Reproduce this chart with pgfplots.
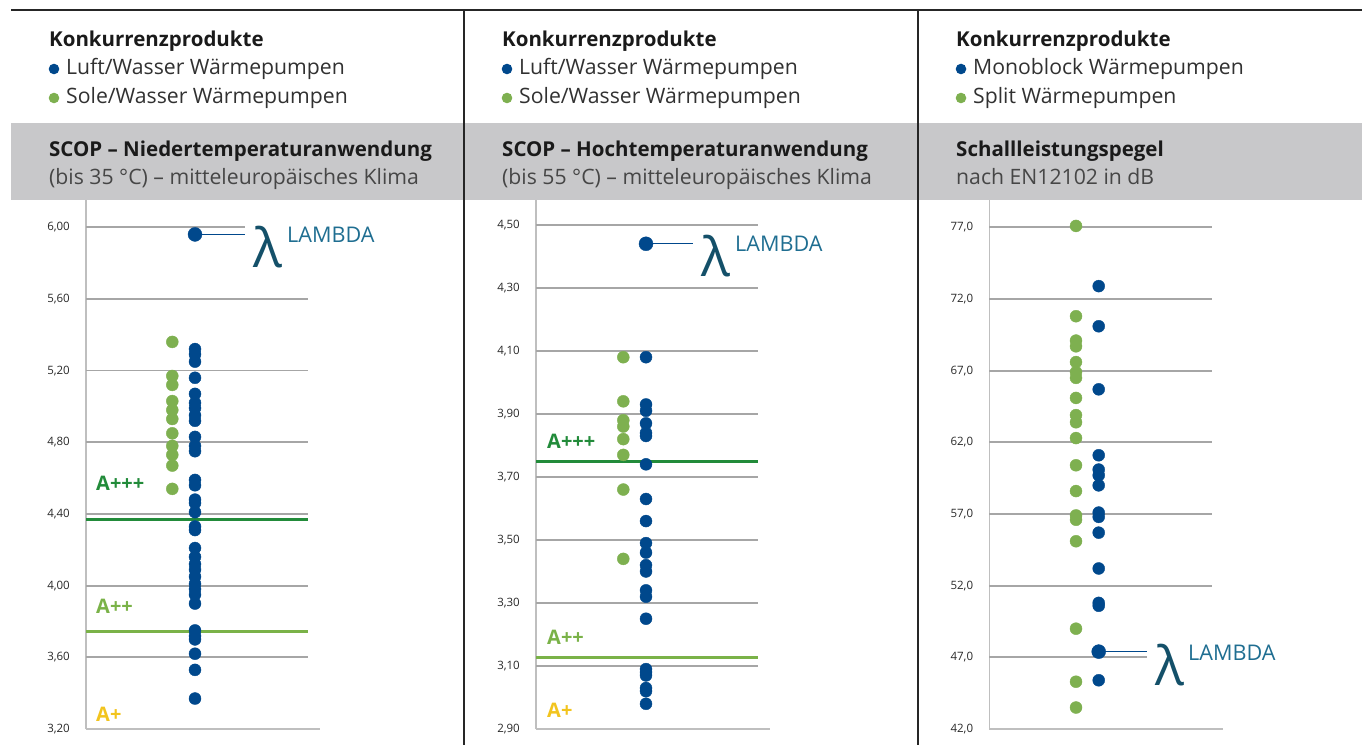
\documentclass[border=0pt]{standalone}
\usepackage{fontspec}
\setmainfont{Open Sans}
\usepackage{pgfplots}
\pgfplotsset{compat=1.18}
\definecolor{dotblue}{RGB}{0,72,140}
\definecolor{dotgreen}{RGB}{126,176,80}
\definecolor{aplus3}{RGB}{34,139,58}
\definecolor{aplus2}{RGB}{122,178,72}
\definecolor{aplus1}{RGB}{242,196,30}
\definecolor{gridgray}{RGB}{166,166,166}
\definecolor{axisgray}{RGB}{191,191,191}
\definecolor{bandgray}{RGB}{200,200,202}
\definecolor{tickgray}{RGB}{40,40,40}
\definecolor{lamtext}{RGB}{31,110,145}
\definecolor{lamglyph}{RGB}{20,80,105}
\definecolor{hdr}{RGB}{26,26,26}
\definecolor{sub}{RGB}{70,70,70}
\newcommand{\hfont}{\fontsize{20.5}{24}\selectfont}
\newcommand{\lfont}{\fontsize{21.2}{24}\selectfont}
\pgfplotsset{panel/.style={
  scale only axis, width=234pt, height=529pt, xmin=0, xmax=234,
  axis x line=bottom, axis y line=left,
  axis line style={-, draw=axisgray, line width=1.5pt},
  xtick=\empty, major tick length=0pt, clip=false,
  anchor=south west,
  /pgf/number format/assume math mode=true,
  yticklabel style={font=\fontsize{11.5}{13}\selectfont, text=tickgray, inner sep=0pt, anchor=east, xshift=-16pt,
    /pgf/number format/.cd, fixed, fixed zerofill, use comma},
}}
\begin{document}
\begin{tikzpicture}
\path[use as bounding box] (0,0) rectangle (1362pt,745pt);
% band and frame lines
\fill[bandgray] (11pt,545pt) rectangle (1362pt,622pt);
\draw[black!85, line width=1.2pt] (11pt,735pt) -- (1362pt,735pt);
\draw[black!85, line width=1.2pt] (464pt,735pt) -- (464pt,0pt);
\draw[black!85, line width=1.2pt] (918pt,735pt) -- (918pt,0pt);
% headers
\foreach \ox/\la/\lb/\ta/\tb in {
  0/{Luft/Wasser Wärmepumpen}/{Sole/Wasser Wärmepumpen}/{SCOP – Niedertemperaturanwendung}/{(bis 35 °C) – mitteleuropäisches Klima},
  453/{Luft/Wasser Wärmepumpen}/{Sole/Wasser Wärmepumpen}/{SCOP – Hochtemperaturanwendung}/{(bis 55 °C) – mitteleuropäisches Klima},
  907/{Monoblock Wärmepumpen}/{Split Wärmepumpen}/{Schallleistungspegel}/{nach EN12102 in dB}}{
  \node[anchor=base west, inner sep=0, text=hdr] at (49pt+\ox pt,698pt) {\hfont\bfseries Konkurrenzprodukte};
  \fill[dotblue] (54pt+\ox pt,676pt) circle (5.3pt);
  \fill[dotgreen] (54pt+\ox pt,647pt) circle (5.3pt);
  \node[anchor=base west, inner sep=0, text=hdr!90] at (66pt+\ox pt,670pt) {\lfont \la};
  \node[anchor=base west, inner sep=0, text=hdr!90] at (66pt+\ox pt,641pt) {\lfont \lb};
  \node[anchor=base west, inner sep=0, text=hdr] at (49pt+\ox pt,588pt) {\hfont\bfseries \ta};
  \node[anchor=base west, inner sep=0, text=sub] at (49pt+\ox pt,560pt) {\lfont \tb};
}
% ---------------- Panel 1 ----------------
\begin{axis}[panel, at={(86pt,16pt)}, ymin=3.2, ymax=6.152,
  ytick={3.2,3.6,4.0,4.4,4.8,5.2,5.6,6.0},
  yticklabel style={/pgf/number format/precision=2}]
\foreach \v in {3.6,4.0,4.4,4.8,5.2,5.6}{
  \edef\tmp{\noexpand\draw[gridgray, line width=1.8pt] (axis cs:0,\v) -- (axis cs:221.7,\v);}\tmp}
\draw[gridgray, line width=1.8pt] (axis cs:0,6.0) -- (axis cs:159,6.0);
\draw[aplus3, line width=2.8pt] (axis cs:0,4.37) -- (axis cs:221.7,4.37);
\draw[aplus2, line width=2.8pt] (axis cs:0,3.745) -- (axis cs:221.7,3.745);
\draw[dotblue, line width=1.8pt] (axis cs:109,5.96) -- (axis cs:159,5.96);
\addplot[only marks, mark=*, mark size=6pt, color=dotgreen] coordinates {
 (86.3,5.36) (86.3,5.17) (86.3,5.12) (86.3,5.03) (86.3,4.98) (86.3,4.93)
 (86.3,4.85) (86.3,4.78) (86.3,4.73) (86.3,4.67) (86.3,4.54)};
\addplot[only marks, mark=*, mark size=6pt, color=dotblue] coordinates {
 (109,5.32) (109,5.29) (109,5.25) (109,5.16) (109,5.07) (109,5.02) (109,4.99)
 (109,4.95) (109,4.92) (109,4.83) (109,4.78) (109,4.75) (109,4.59) (109,4.56)
 (109,4.48) (109,4.46) (109,4.41) (109,4.33) (109,4.31) (109,4.21) (109,4.16)
 (109,4.12) (109,4.09) (109,4.05) (109,4.01) (109,3.98) (109,3.95) (109,3.90)
 (109,3.75) (109,3.72) (109,3.70) (109,3.62) (109,3.53) (109,3.37)};
\addplot[only marks, mark=*, mark size=7pt, color=dotblue] coordinates {(109,5.96)};
\end{axis}
% ---------------- Panel 2 ----------------
\begin{axis}[panel, at={(536pt,16pt)}, ymin=2.9, ymax=4.579,
  ytick={2.9,3.1,3.3,3.5,3.7,3.9,4.1,4.3,4.5},
  yticklabel style={/pgf/number format/precision=2}]
\foreach \v in {3.1,3.3,3.5,3.7,3.9,4.1,4.3,4.5}{
  \edef\tmp{\noexpand\draw[gridgray, line width=1.8pt] (axis cs:0,\v) -- (axis cs:221.7,\v);}\tmp}
\draw[aplus3, line width=2.8pt] (axis cs:0,3.75) -- (axis cs:221.7,3.75);
\draw[aplus2, line width=2.8pt] (axis cs:0,3.128) -- (axis cs:221.7,3.128);
\draw[dotblue, line width=1.4pt] (axis cs:110,4.44) -- (axis cs:157,4.44);
\addplot[only marks, mark=*, mark size=6pt, color=dotgreen] coordinates {
 (87.3,4.08) (87.3,3.94) (87.3,3.88) (87.3,3.86) (87.3,3.82) (87.3,3.77)
 (87.3,3.66) (87.3,3.44)};
\addplot[only marks, mark=*, mark size=6pt, color=dotblue] coordinates {
 (110,4.08) (110,3.93) (110,3.91) (110,3.87) (110,3.84) (110,3.83) (110,3.74)
 (110,3.63) (110,3.56) (110,3.49) (110,3.46) (110,3.42) (110,3.40) (110,3.34)
 (110,3.32) (110,3.25) (110,3.09) (110,3.08) (110,3.07) (110,3.03) (110,3.02)
 (110,2.98)};
\addplot[only marks, mark=*, mark size=7pt, color=dotblue] coordinates {(110,4.44)};
\end{axis}
% ---------------- Panel 3 ----------------
\begin{axis}[panel, at={(989.3pt,16pt)}, xmax=233.4, width=233.4pt, ymin=42, ymax=78.91,
  ytick={42,47,52,57,62,67,72,77},
  yticklabel style={/pgf/number format/precision=1}]
\foreach \v in {52,57,62,67,72,77}{
  \edef\tmp{\noexpand\draw[gridgray, line width=1.8pt] (axis cs:0,\v) -- (axis cs:222.4,\v);}\tmp}
\draw[gridgray, line width=1.8pt] (axis cs:0,47) -- (axis cs:157.4,47);
\draw[dotblue, line width=1.5pt] (axis cs:109.4,47.4) -- (axis cs:157.4,47.4);
\addplot[only marks, mark=*, mark size=6pt, color=dotgreen] coordinates {
 (86.7,77.1) (86.7,70.8) (86.7,69.1) (86.7,68.7) (86.7,67.6) (86.7,66.9)
 (86.7,66.5) (86.7,65.1) (86.7,63.9) (86.7,63.4) (86.7,62.3) (86.7,60.4)
 (86.7,58.6) (86.7,56.9) (86.7,56.6) (86.7,55.1) (86.7,49.0) (86.7,45.3)
 (86.7,43.5)};
\addplot[only marks, mark=*, mark size=6pt, color=dotblue] coordinates {
 (109.4,72.9) (109.4,70.1) (109.4,65.7) (109.4,61.1) (109.4,60.1) (109.4,59.7)
 (109.4,59.0) (109.4,57.1) (109.4,56.8) (109.4,55.7) (109.4,53.2) (109.4,50.8)
 (109.4,50.6) (109.4,45.4)};
\addplot[only marks, mark=*, mark size=7pt, color=dotblue] coordinates {(109.4,47.4)};
\end{axis}
% rating labels
\node[anchor=base west, inner sep=0, text=aplus3] at (96pt,255pt) {\fontsize{20}{24}\selectfont\bfseries A+++};
\node[anchor=base west, inner sep=0, text=aplus2] at (96pt,132pt) {\fontsize{20}{24}\selectfont\bfseries A++};
\node[anchor=base west, inner sep=0, text=aplus1] at (96pt,24pt) {\fontsize{20}{24}\selectfont\bfseries A+};
\node[anchor=base west, inner sep=0, text=aplus3] at (547pt,296pt) {\fontsize{20}{24}\selectfont\bfseries A+++};
\node[anchor=base west, inner sep=0, text=aplus2] at (547pt,101pt) {\fontsize{20}{24}\selectfont\bfseries A++};
\node[anchor=base west, inner sep=0, text=aplus1] at (547pt,28pt) {\fontsize{20}{24}\selectfont\bfseries A+};
% LAMBDA markers
\foreach \lx/\ly/\tx/\ty in {253/477/287/502, 701.7/468/735/493, 1155/60/1188/85}{
  \node[anchor=base west, inner sep=0, text=lamglyph] at (\lx pt,\ly pt) {\fontsize{54}{60}\selectfont λ};
  \node[anchor=base west, inner sep=0, text=lamtext] at (\tx pt,\ty pt) {\fontsize{21.6}{24}\selectfont LAMBDA};
}
\end{tikzpicture}
\end{document}
